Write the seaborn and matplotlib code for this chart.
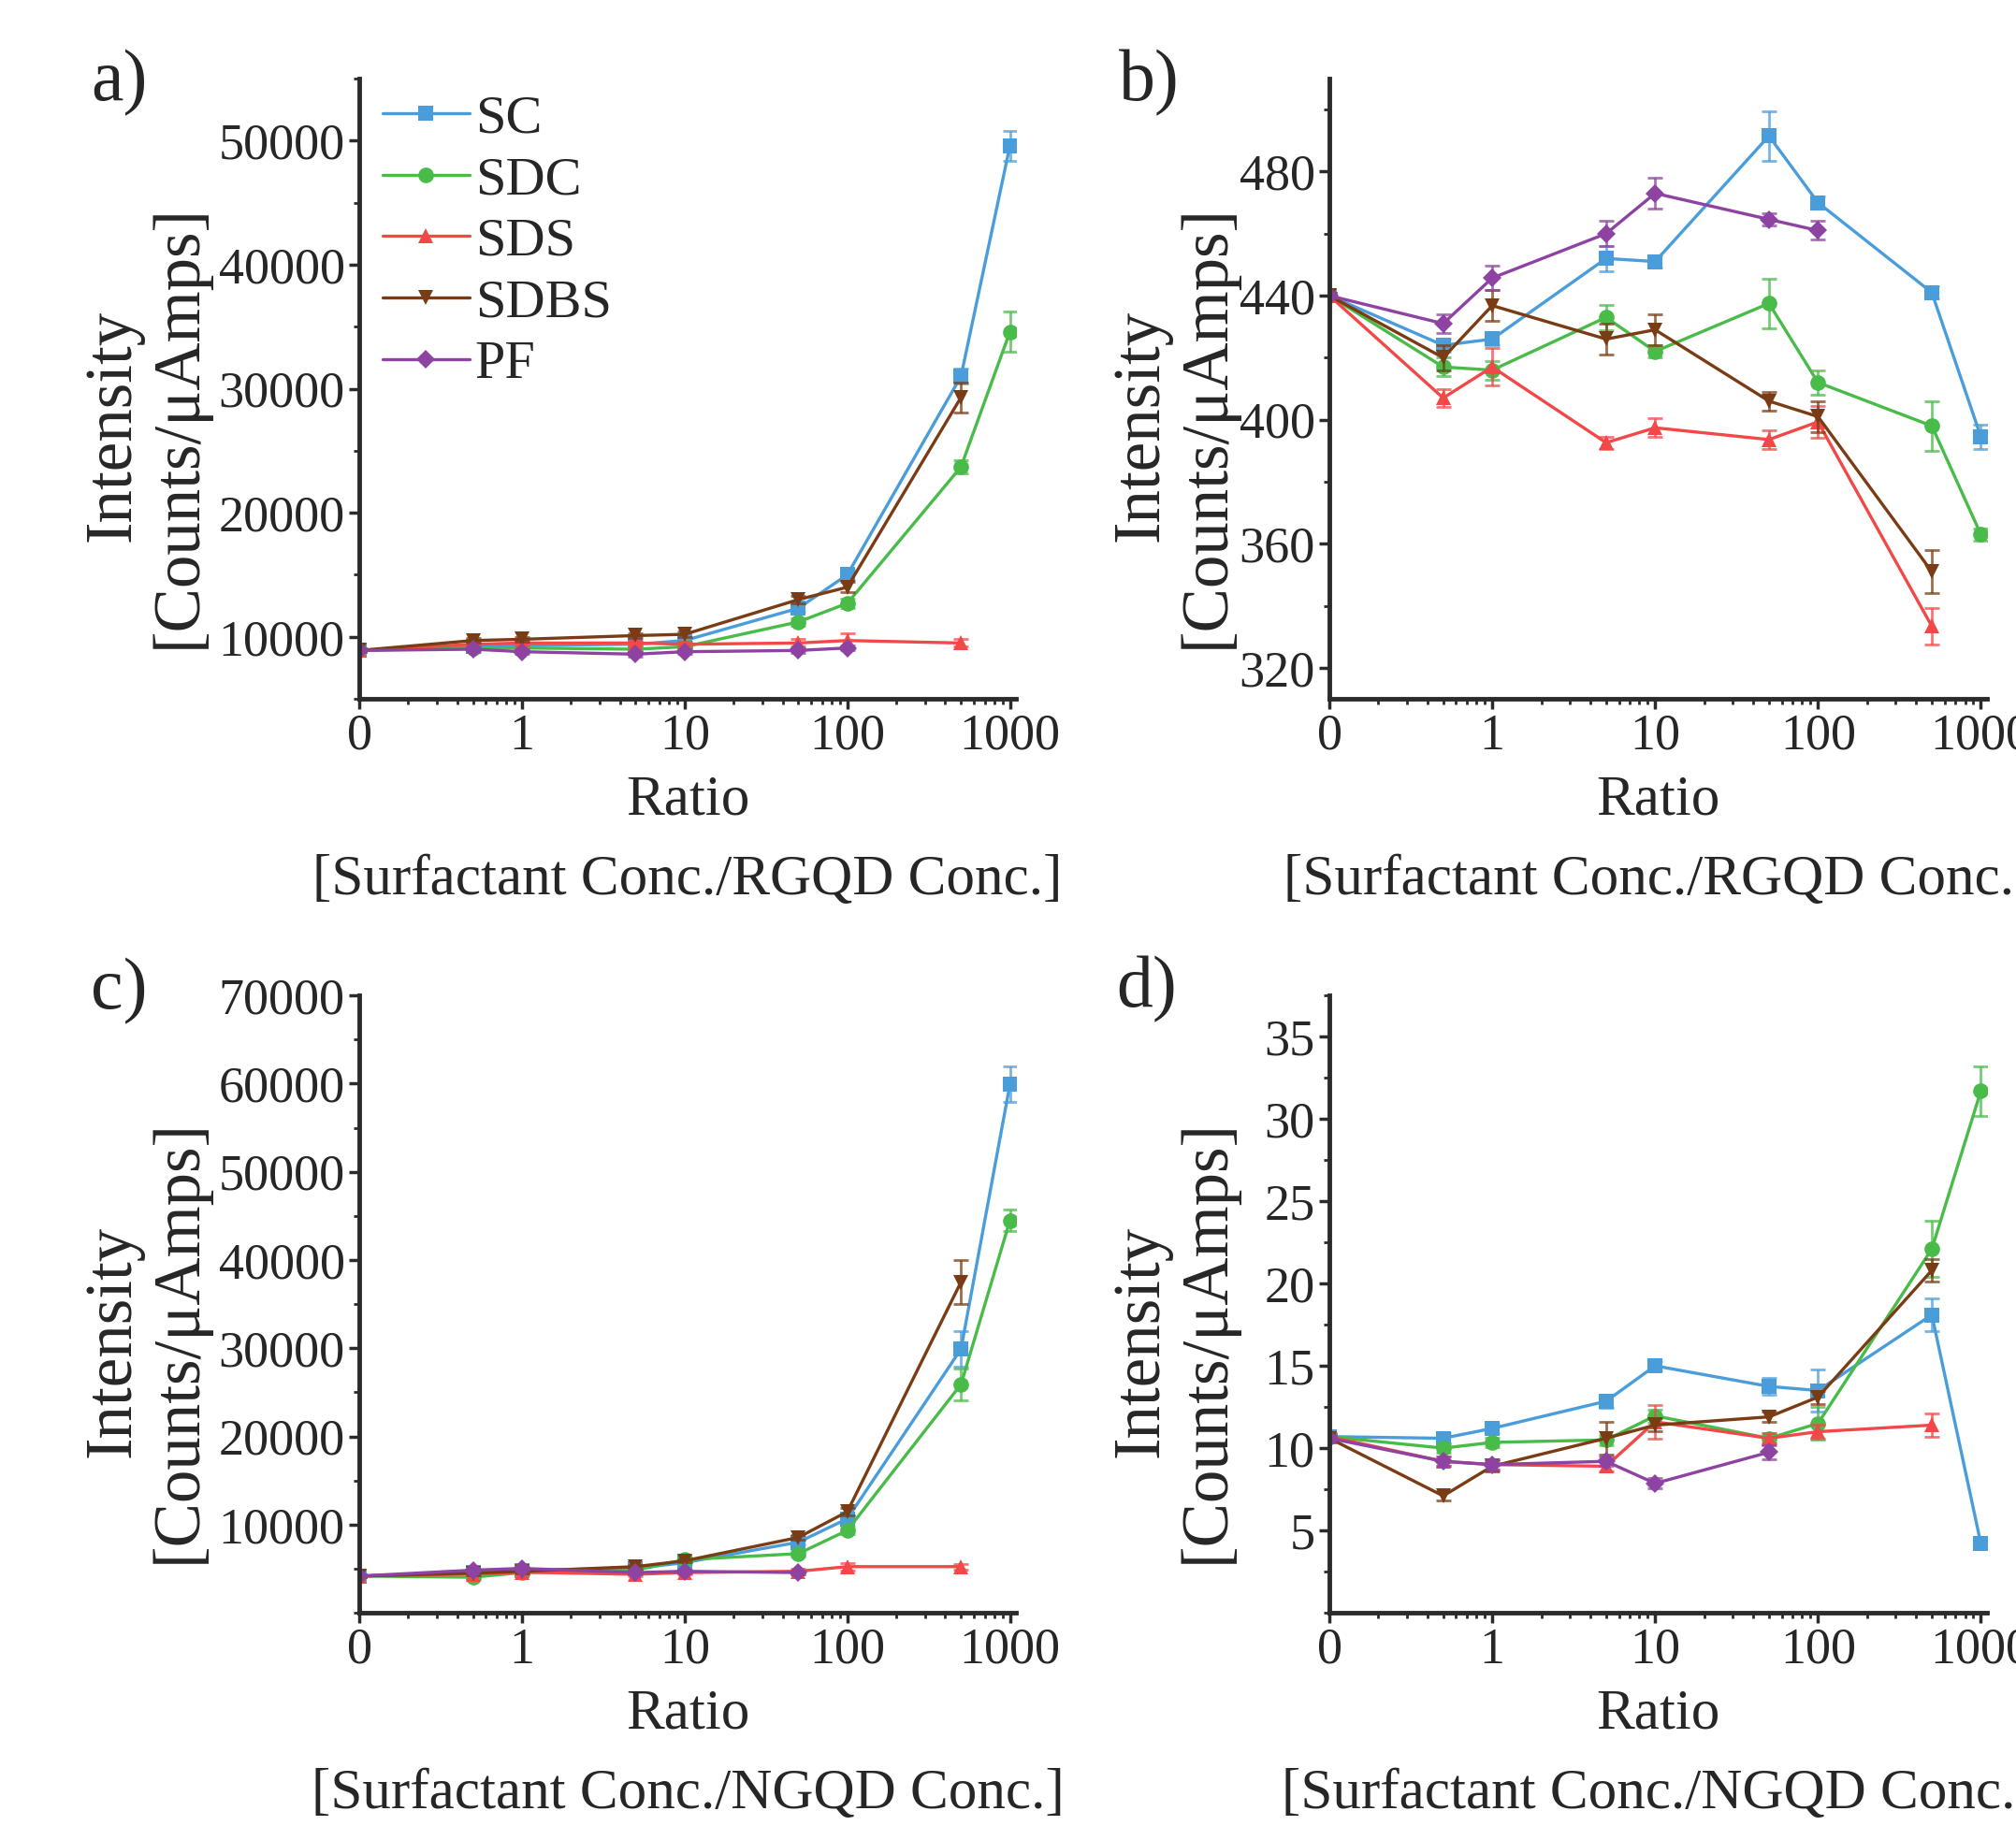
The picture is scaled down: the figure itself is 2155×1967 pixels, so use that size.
import matplotlib
matplotlib.use("Agg")
import matplotlib.pyplot as plt
import matplotlib.ticker as mticker
import seaborn as sns
import numpy as np

# Datos
ratio = [0, 0.5, 1, 5, 10, 50, 100, 500, 1000]
nan = np.nan

names = ["SC", "SDC", "SDS", "SDBS", "PF"]
colors = ["#4a9ddb", "#48bb48", "#f24848", "#7a3c14", "#8e42a2"]
markers = ["s", "o", "^", "v", "D"]

# a) RGQD, intensidad
a_sc = [8900, 9200, 9300, 9400, 9700, 12300, 15000, 31000, 49600]
a_sdc = [8900, 9100, 9100, 9000, 9200, 11200, 12700, 23700, 34600]
a_sds = [8900, 9400, 9500, 9500, 9400, 9500, 9700, 9500, nan]
a_sdbs = [8900, 9700, 9800, 10100, 10200, 13000, 14000, 29300, nan]
a_pf = [8900, 9000, 8800, 8600, 8800, 8900, 9100, nan, nan]
a_sc_err = [150, 200, 200, 200, 200, 300, 400, 600, 1200]
a_sdc_err = [150, 200, 200, 200, 200, 300, 400, 500, 1600]
a_sds_err = [150, 200, 200, 200, 200, 300, 600, 300, nan]
a_sdbs_err = [150, 200, 200, 200, 200, 300, 400, 1200, nan]
a_pf_err = [150, 200, 200, 200, 200, 200, 200, nan, nan]

# b) RGQD, intensidad baja
b_sc = [440, 424, 426, 452, 451, 491.5, 470, 441, 394.5]
b_sdc = [440, 417, 416, 433, 422, 437.5, 412, 398, 363]
b_sds = [440, 407, 417, 392.6, 397.4, 393.6, 399.3, 333.4, nan]
b_sdbs = [440, 420, 436.8, 426, 429, 406, 401, 351, nan]
b_pf = [440, 431, 445.7, 460, 473, 464.6, 461, nan, nan]
b_sc_err = [1, 2, 2, 4, 2, 8, 2, 2, 4]
b_sdc_err = [1, 3, 3, 4, 2, 8, 4, 8, 2]
b_sds_err = [1, 3, 6, 2, 3, 3, 5, 6, nan]
b_sdbs_err = [1, 4, 5, 5, 5, 3, 5, 7, nan]
b_pf_err = [1, 3, 4, 4, 5, 2, 3, nan, nan]

# c) NGQD, intensidad
c_sc = [4160, 4560, 4830, 5030, 5690, 8000, 10660, 29900, 59930]
c_sdc = [4160, 4030, 4560, 4830, 6020, 6700, 9340, 25900, 44500]
c_sds = [4160, 4400, 4600, 4360, 4560, 4700, 5230, 5230, nan]
c_sdbs = [4160, 4500, 4700, 5230, 5890, 8540, 11460, 37500, nan]
c_pf = [4160, 4830, 5030, 4560, 4700, 4560, nan, nan, nan]
c_sc_err = [150, 200, 200, 200, 200, 300, 400, 2000, 2000]
c_sdc_err = [150, 200, 200, 200, 200, 300, 400, 1800, 1200]
c_sds_err = [150, 200, 200, 200, 200, 300, 400, 300, nan]
c_sdbs_err = [150, 200, 200, 200, 200, 300, 400, 2500, nan]
c_pf_err = [150, 200, 200, 200, 200, 200, nan, nan, nan]

# d) NGQD, intensidad baja
d_sc = [10.7, 10.6, 11.2, 12.85, 15.0, 13.75, 13.5, 18.1, 4.2]
d_sdc = [10.7, 10.0, 10.35, 10.5, 11.96, 10.6, 11.5, 22.1, 31.7]
d_sds = [10.7, 9.2, 9.0, 8.9, 11.6, 10.6, 11.0, 11.4, nan]
d_sdbs = [10.6, 7.1, 8.9, 10.6, 11.4, 11.9, 13.1, 20.8, nan]
d_pf = [10.6, 9.2, 9.0, 9.2, 7.86, 9.75, nan, nan, nan]
d_sc_err = [0.2, 0.3, 0.3, 0.4, 0.3, 0.5, 1.3, 1.0, 0.3]
d_sdc_err = [0.2, 0.3, 0.3, 0.3, 0.4, 0.3, 1.0, 1.7, 1.5]
d_sds_err = [0.2, 0.3, 0.3, 0.3, 1.0, 0.3, 0.4, 0.7, nan]
d_sdbs_err = [0.2, 0.3, 0.3, 1.0, 0.4, 0.3, 0.4, 0.7, nan]
d_pf_err = [0.2, 0.3, 0.3, 0.3, 0.3, 0.4, nan, nan, nan]

panels = [
    ("a)", [a_sc, a_sdc, a_sds, a_sdbs, a_pf],
     [a_sc_err, a_sdc_err, a_sds_err, a_sdbs_err, a_pf_err], "RGQD"),
    ("b)", [b_sc, b_sdc, b_sds, b_sdbs, b_pf],
     [b_sc_err, b_sdc_err, b_sds_err, b_sdbs_err, b_pf_err], "RGQD"),
    ("c)", [c_sc, c_sdc, c_sds, c_sdbs, c_pf],
     [c_sc_err, c_sdc_err, c_sds_err, c_sdbs_err, c_pf_err], "NGQD"),
    ("d)", [d_sc, d_sdc, d_sds, d_sdbs, d_pf],
     [d_sc_err, d_sdc_err, d_sds_err, d_sdbs_err, d_pf_err], "NGQD"),
]

# Ejes: (ylim, major, minor)
yaxes = [
    ((5000, 55000), 10000, 5000),
    ((310, 510), 40, 20),
    ((0, 70000), 10000, 5000),
    ((0, 37.5), 5, 2.5),
]

sns.set_theme(style="ticks")
plt.rcParams["font.family"] = ["Liberation Serif", "DejaVu Serif"]

fig = plt.figure(figsize=(21.55, 19.67), dpi=100)
positions = [
    [0.1782, 0.6202, 0.3258, 0.3371],
    [0.6594, 0.6202, 0.3262, 0.3371],
    [0.1782, 0.1235, 0.3258, 0.3355],
    [0.6594, 0.1235, 0.3262, 0.3355],
]
label_pos = [(127, 89), (1228, 89), (127, 1060), (1226, 1058)]
ylabel_x = [-0.228, -0.14, -0.228, -0.14]

xp_all = np.array([0.1 if r == 0 else r for r in ratio])

for i, (tag, series, errors, qd) in enumerate(panels):
    ax = fig.add_axes(positions[i])
    for name, vals, err, c, m in zip(names, series, errors, colors, markers):
        v = np.array(vals, dtype=float)
        e = np.array(err, dtype=float)
        ok = ~np.isnan(v)
        ms = 12 if m != "D" else 10
        sns.lineplot(x=xp_all[ok], y=v[ok], ax=ax, color=c, marker=m,
                     markersize=ms, markeredgewidth=0, linewidth=2.4,
                     errorbar=None, label=name if i == 0 else None,
                     legend=(i == 0))
        ax.errorbar(xp_all[ok], v[ok], yerr=e[ok], fmt="none", ecolor=c,
                    elinewidth=2, capsize=6, capthick=2, alpha=0.75)

    ax.set_xscale("log")
    ax.set_xlim(0.1, 1090)
    ax.set_xticks([0.1, 1, 10, 100, 1000])
    ax.set_xticklabels(["0", "1", "10", "100", "1000"])
    ax.xaxis.set_minor_locator(mticker.LogLocator(base=10, subs=np.arange(2, 10)))
    ax.xaxis.set_minor_formatter(mticker.NullFormatter())

    ylim, major, minor = yaxes[i]
    ax.set_ylim(*ylim)
    ax.yaxis.set_major_locator(mticker.MultipleLocator(major))
    ax.yaxis.set_minor_locator(mticker.MultipleLocator(minor))
    if i == 2:
        ax.set_yticks(np.arange(10000, 70001, 10000))
    if i == 3:
        ax.set_yticks(np.arange(5, 36, 5))
    ax.yaxis.set_major_formatter(mticker.FuncFormatter(lambda v, p: f"{v:g}"))

    sns.despine(ax=ax)
    for s in ["left", "bottom"]:
        ax.spines[s].set_linewidth(3.5)
        ax.spines[s].set_color("#2b2b2b")
    ax.tick_params(which="major", direction="out", length=8, width=2.5,
                   labelsize=39, pad=3, color="#2b2b2b")
    ax.tick_params(which="minor", direction="out", length=4.5, width=2,
                   color="#2b2b2b")

    ax.set_xlabel(f"Ratio\n[Surfactant Conc./{qd} Conc.]", fontsize=44,
                  linespacing=1.7, labelpad=11)
    ax.set_ylabel("Intensity\n[Counts/\u03bcAmps]", fontsize=51,
                  linespacing=1.1)
    ax.yaxis.set_label_coords(ylabel_x[i], 0.44)

    if i == 0:
        ax.legend(loc="upper left", bbox_to_anchor=(0.035, 0.975), frameon=False,
                  fontsize=42, borderpad=0, borderaxespad=0, handlelength=1.6,
                  handletextpad=0.1, labelspacing=0.22)

    fig.text(label_pos[i][0] / 2155, 1 - label_pos[i][1] / 1967, tag,
             fontsize=56, ha="center", va="center")

fig.savefig("out.png", dpi=100)
